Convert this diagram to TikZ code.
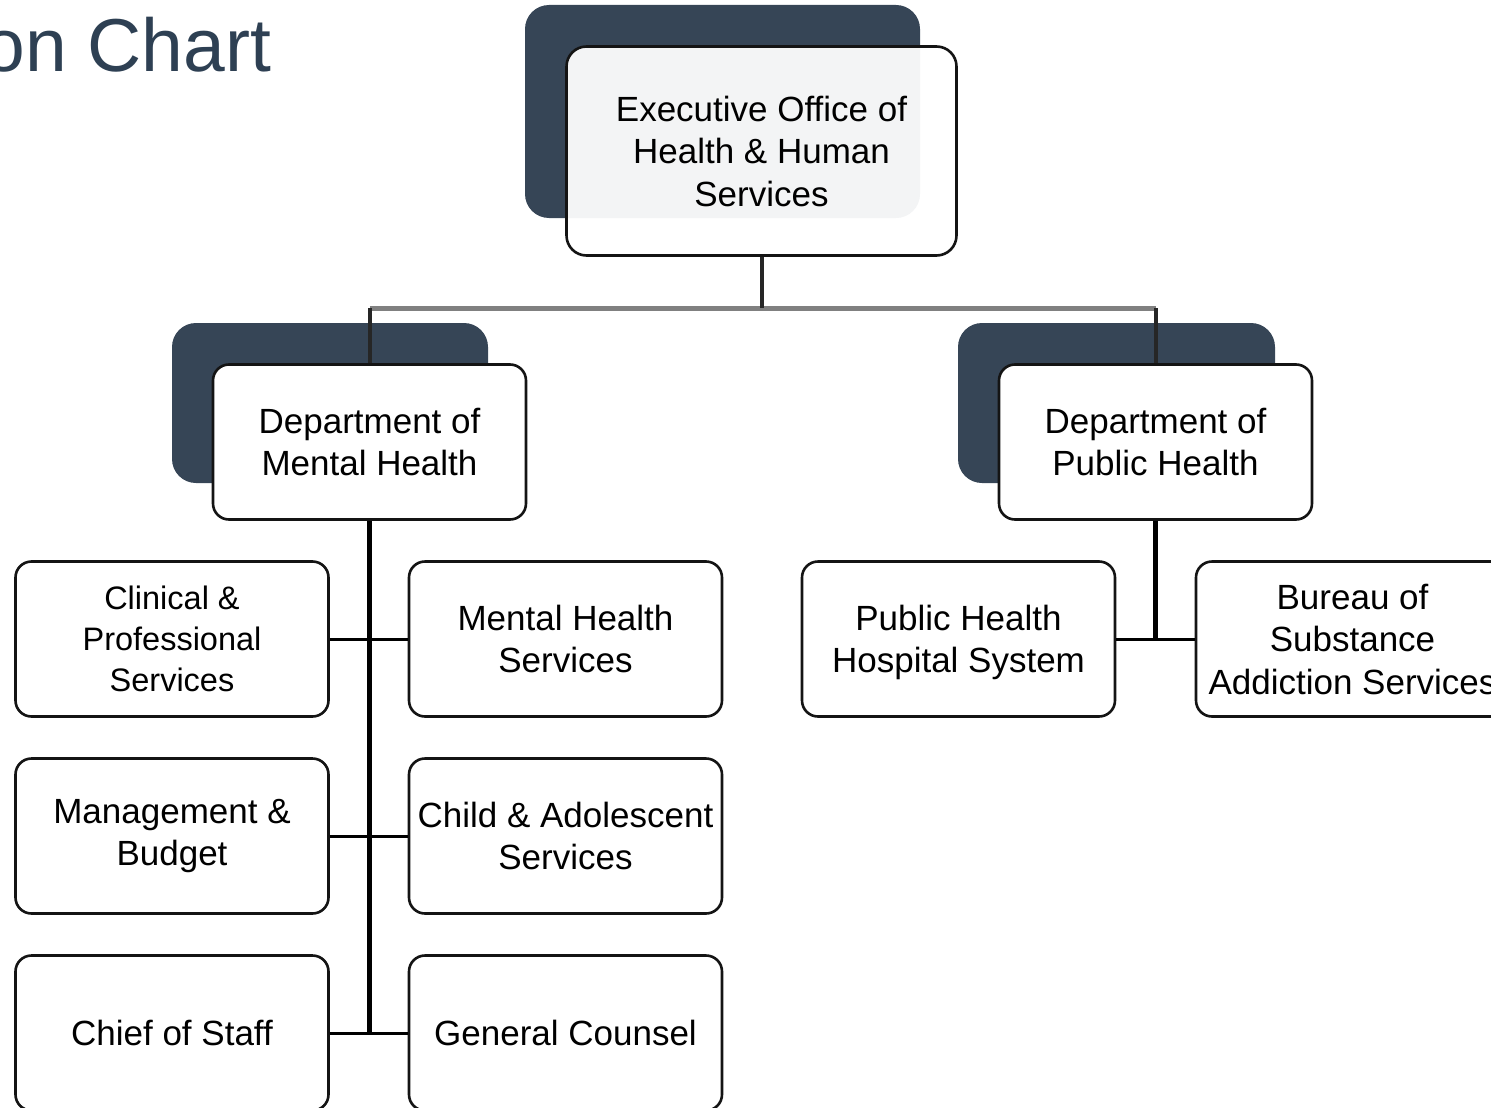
\documentclass[tikz,border=0pt]{standalone}
\usepackage{fontspec}
\setmainfont{Liberation Sans}
\definecolor{shadowc}{HTML}{364556}
\definecolor{titlec}{HTML}{2E4053}
\definecolor{busc}{HTML}{808080}
\begin{document}
\begin{tikzpicture}[x=1pt,y=-1pt,
  box/.style={draw=black!92, line width=2.6pt, rounded corners=16pt, fill=white,
    align=center, inner sep=0pt, minimum width=313pt, minimum height=155pt,
    font=\fontsize{35}{42.5}\selectfont},
  shadowbox/.style={fill=shadowc, rounded corners=24pt},
  link/.style={line width=3pt, black},
  trunk/.style={line width=4.5pt, black},
  bus/.style={line width=5pt, busc},
  stem/.style={line width=4pt, black!85}
]
\useasboundingbox (0,0) rectangle (1491,1108);
% title
\node[anchor=base east, inner sep=0pt, text=titlec, font=\fontsize{75}{75}\selectfont] (title) at (271.5,72) {on Chart};
% shadows
\fill[shadowbox] (525,5) rectangle (920,218);
\fill[shadowbox] (172,323) rectangle (488,483);
\fill[shadowbox] (958,323) rectangle (1275,483);
% coordinates
\coordinate (busM) at (761.5,308);
\coordinate (busL) at (369.5,308);
\coordinate (busR) at (1155.5,308);
\coordinate (mhEnd) at (369.5,1033);
\coordinate (phEnd) at (1155.5,639);
% connectors (under boxes)
\draw[bus] (busL) -- (busR);
\draw[stem] (busL) -- (369.5,365);
\draw[stem] (busR) -- (1155.5,365);
% boxes
\node[box, minimum width=390pt, minimum height=209pt, rounded corners=20pt, fill opacity=0.94, text opacity=1] (exec) at (761.5,151) {Executive Office of\\Health \& Human\\Services};
\node[box] (mh) at (369.5,442) {Department of\\Mental Health};
\node[box] (ph) at (1155.5,442) {Department of\\Public Health};
\node[box, font=\fontsize{32.5}{41}\selectfont] (clin) at (172,639) {Clinical \&\\Professional\\Services};
\node[box] (mhs) at (565.5,639) {Mental Health\\Services};
\node[box] (mgmt) at (172,836) {Management \&\\Budget};
\node[box] (child) at (565.5,836) {Child \& Adolescent\\Services};
\node[box] (chief) at (172,1033) {Chief of Staff};
\node[box] (gc) at (565.5,1033) {General Counsel};
\node[box, text depth=0pt] (phh) at (958.5,639) {Public Health\\Hospital System};
\node[box] (bur) at (1352.5,639) {Bureau of\\Substance\\Addiction Services};
% connectors from boxes
\draw[stem] (exec.south) -- (busM);
\draw[trunk] (mh.south) -- (mhEnd);
\draw[link] (clin.east) -- (mhs.west);
\draw[link] (mgmt.east) -- (child.west);
\draw[link] (chief.east) -- (gc.west);
\draw[trunk] (ph.south) -- (phEnd);
\draw[link] (phh.east) -- (bur.west);
\end{tikzpicture}
\end{document}
